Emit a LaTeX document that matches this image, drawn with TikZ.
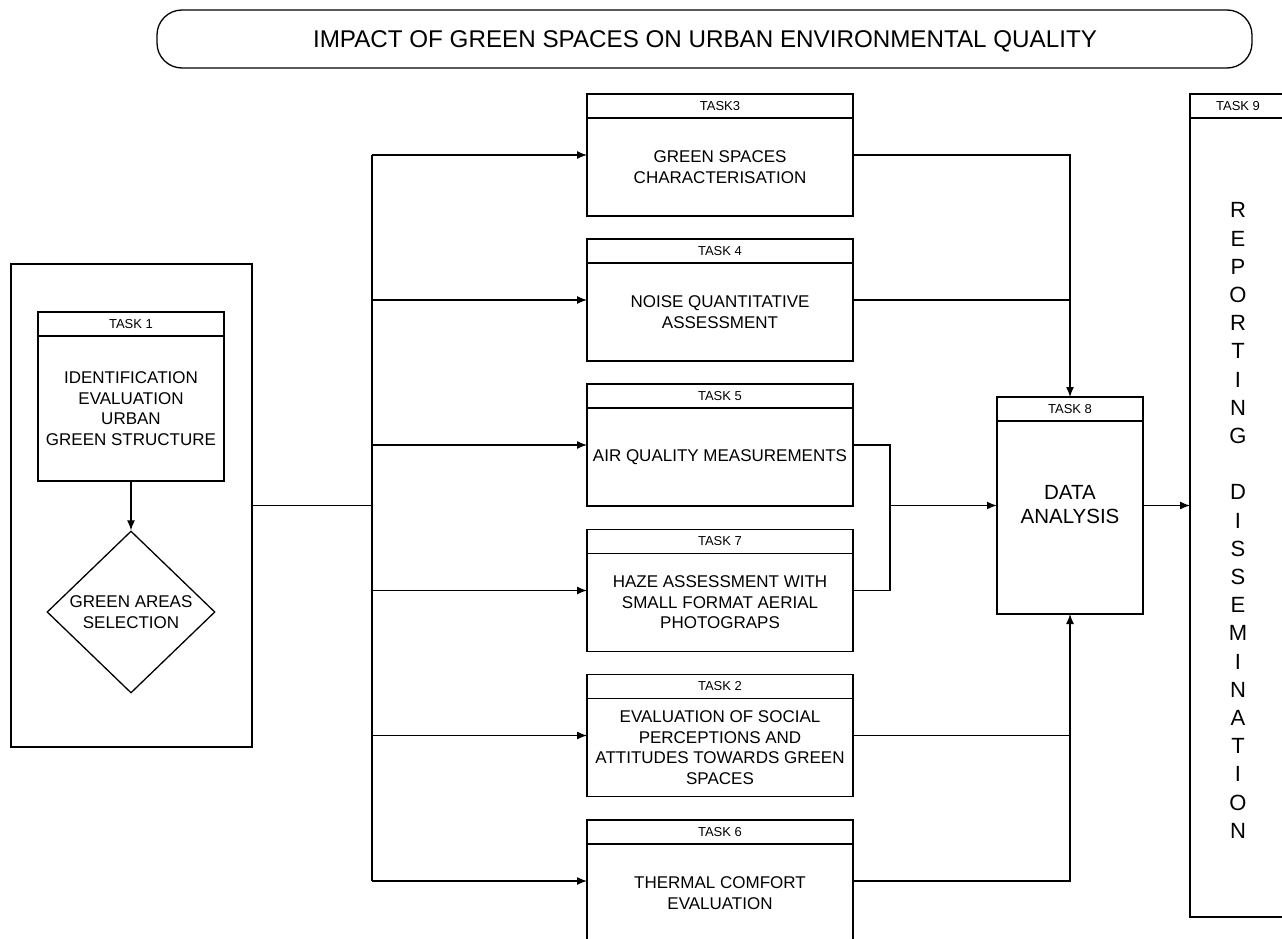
\documentclass[tikz,border=0pt]{standalone}
\usepackage{fontspec}
\setmainfont{Liberation Sans}
\usetikzlibrary{arrows.meta,shapes.geometric,calc}

\newcommand{\drawtask}[6][]{%
    \node[taskbox, #4] (#2) at (#3) {};
    \draw ([yshift=-24pt]#2.north west) -- ([yshift=-24pt]#2.north east);
    \node[tasklabel] (#2-label) at ([yshift=-12pt]#2.north) {#5};
    \node[tasktext, #1] (#2-text) at ($(#2.south)!0.5!([yshift=-24pt]#2.north)$) {#6};
}

\begin{document}
\begin{tikzpicture}[
        x=1pt, y=-1pt,
        line width=1.3pt,
        >={Latex[length=10pt,width=8pt]},
        taskbox/.style={draw, rectangle, inner sep=0pt, outer sep=0pt, minimum width=266, minimum height=122},
        tasklabel/.style={font=\fontsize{13}{15}\selectfont, inner sep=0pt},
        tasktext/.style={font=\fontsize{17}{20.5}\selectfont, align=center, inner sep=0pt},
        declare function={
            BusX=372;
            JoinX=890;
            TaskX=720;
        }
    ]
        \useasboundingbox (0,0) rectangle (1282,939);

        \node[draw, rounded corners=25pt, minimum width=1095, minimum height=58, inner sep=0pt] (title) at (704.5,39) {};
        \node[font=\fontsize{24.2}{29}\selectfont, inner sep=0pt] (title-text) at (705,41) {IMPACT OF GREEN SPACES ON URBAN ENVIRONMENTAL QUALITY};

        \node[draw, minimum width=241, minimum height=483, inner sep=0pt] (area) at (131.5,505.5) {};
        \drawtask{t1}{131,396.5}{minimum width=186, minimum height=169}{TASK 1}{IDENTIFICATION\\EVALUATION\\URBAN\\GREEN STRUCTURE}
        \node[draw, diamond, aspect=1.04, minimum width=168, minimum height=162, inner sep=0pt, align=center,
            font=\fontsize{17}{20.5}\selectfont] (sel) at (131,612) {GREEN AREAS\\SELECTION};
        \draw[->] (t1) -- (sel);

        \drawtask{t3}{TaskX,155}{}{TASK3}{GREEN SPACES\\CHARACTERISATION}
        \drawtask{t4}{TaskX,300}{}{TASK 4}{NOISE QUANTITATIVE\\ASSESSMENT}
        \drawtask{t5}{TaskX,445}{}{TASK 5}{AIR QUALITY MEASUREMENTS}
        \drawtask{t7}{TaskX,590.5}{}{TASK 7}{HAZE ASSESSMENT WITH\\SMALL FORMAT AERIAL\\PHOTOGRAPS}
        \drawtask{t2}{TaskX,735.5}{}{TASK 2}{EVALUATION OF SOCIAL\\PERCEPTIONS AND\\ATTITUDES TOWARDS GREEN\\SPACES}
        \drawtask{t6}{TaskX,881}{}{TASK 6}{THERMAL COMFORT\\EVALUATION}

        \drawtask[font=\fontsize{20.5}{24.5}\selectfont, yshift=13pt]{t8}{1070,505.5}{minimum width=146, minimum height=217}{TASK 8}{DATA\\ANALYSIS}
        \drawtask[font=\fontsize{22}{28.2}\selectfont, yshift=-3pt]{t9}{1238,505.5}{minimum width=96, minimum height=823}{TASK 9}{R\\E\\P\\O\\R\\T\\I\\N\\G\\~\\D\\I\\S\\S\\E\\M\\I\\N\\A\\T\\I\\O\\N}

        \coordinate (hub) at (BusX,505.5);
        \foreach \n/\y in {3/155,4/300,5/445,7/590.5,2/735.5,6/881}
            \coordinate (b\n) at (BusX,\y);
        \draw[line width=1.7pt] (area.east) -- (hub);
        \draw[line width=1.5pt] (b3) -- (b6);
        \foreach \n in {3,4,5,7,2,6}
            \draw[->] (b\n) -- (t\n);

        \coordinate (j57) at (JoinX,505.5);
        \draw[->] (t3.east) -| (t8.north);
        \draw (t4.east) -- (t4.east -| t8.north);
        \draw (t5.east) -| (j57);
        \draw (t7.east) -| (j57);
        \draw[->, line width=1.7pt] (j57) -- (t8);
        \draw (t2.east) -- (t2.east -| t8.south);
        \draw[->] (t6.east) -| (t8.south);
        \draw[->] (t8) -- (t9);
    \end{tikzpicture}
\end{document}
